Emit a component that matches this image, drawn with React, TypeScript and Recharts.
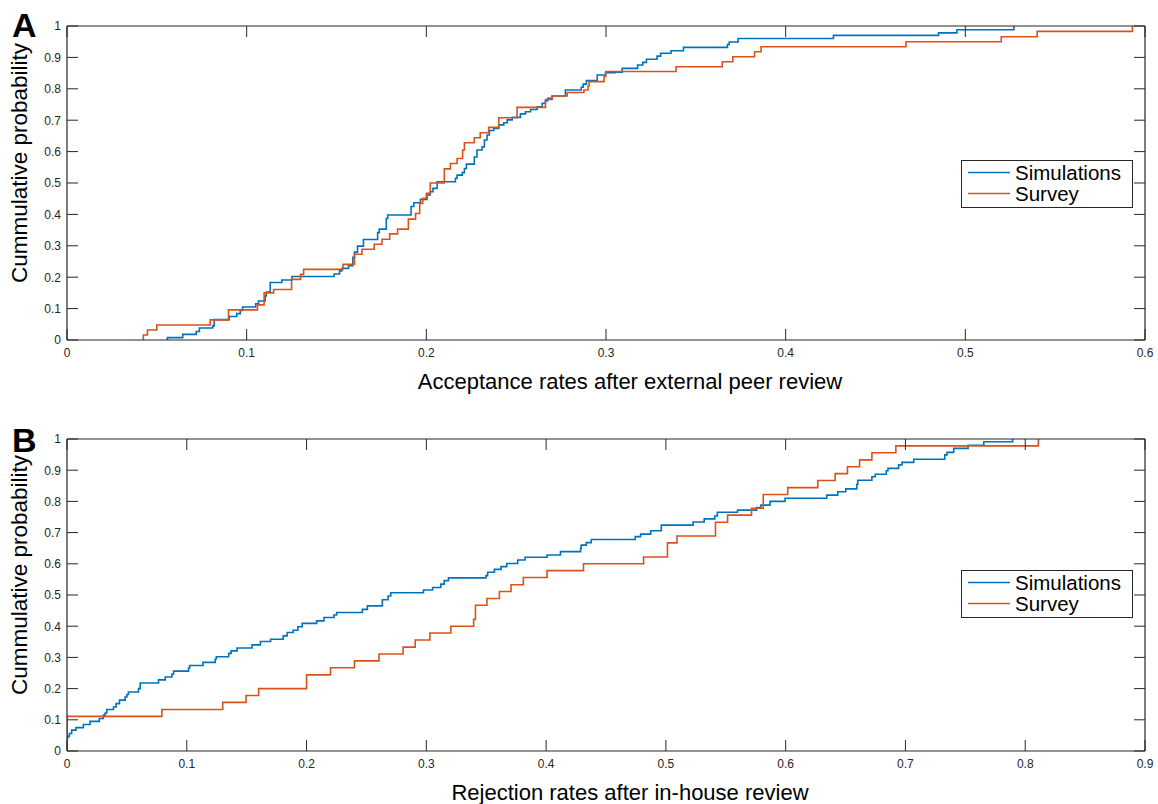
import React from 'react';
import { LineChart, Line, XAxis, YAxis, Legend } from 'recharts';

const FONT = '"Liberation Sans", Arial, Helvetica, sans-serif';
const AXIS = '#262626';
const BLUE = '#0072BD';
const ORANGE = '#D95319';

const seriesNames = ['Simulations', 'Survey'];
const yTicks = [0, 0.1, 0.2, 0.3, 0.4, 0.5, 0.6, 0.7, 0.8, 0.9, 1];
const xTicksA = [0, 0.1, 0.2, 0.3, 0.4, 0.5, 0.6];
const xTicksB = [0, 0.1, 0.2, 0.3, 0.4, 0.5, 0.6, 0.7, 0.8, 0.9];
const xLabelA = 'Acceptance rates after external peer review';
const xLabelB = 'Rejection rates after in-house review';
const yLabel = 'Cummulative probability';

// Panel A — empirical CDF steps [x, cumulative probability]
const simA: [number, number][] = [
  [0.0559, 0], [0.0559, 0.0075], [0.0644, 0.018], [0.0719, 0.027], [0.0737, 0.038], [0.0811, 0.045],
  [0.0819, 0.065], [0.0903, 0.075], [0.0945, 0.084], [0.0964, 0.094], [0.0977, 0.105], [0.105, 0.115],
  [0.1066, 0.124], [0.1103, 0.14], [0.1109, 0.153], [0.1131, 0.183], [0.1196, 0.191], [0.1252, 0.202],
  [0.1487, 0.21], [0.1517, 0.22], [0.153, 0.228], [0.1567, 0.237], [0.1591, 0.263], [0.16, 0.28],
  [0.1617, 0.299], [0.165, 0.32], [0.1729, 0.342], [0.1738, 0.353], [0.1777, 0.387], [0.1785, 0.398],
  [0.1915, 0.425], [0.193, 0.437], [0.1967, 0.448], [0.2004, 0.462], [0.2022, 0.472], [0.2037, 0.483],
  [0.206, 0.504], [0.2162, 0.515], [0.2171, 0.525], [0.22, 0.533], [0.2212, 0.546], [0.2223, 0.56],
  [0.2267, 0.583], [0.2282, 0.605], [0.231, 0.615], [0.2323, 0.637], [0.2338, 0.653], [0.2351, 0.667],
  [0.2375, 0.674], [0.2403, 0.685], [0.2431, 0.692], [0.245, 0.701], [0.2478, 0.709], [0.2524, 0.72],
  [0.2552, 0.727], [0.258, 0.734], [0.2617, 0.743], [0.2645, 0.754], [0.2663, 0.762], [0.2676, 0.77],
  [0.27, 0.777], [0.2774, 0.796], [0.2862, 0.805], [0.2873, 0.815], [0.2891, 0.826], [0.2951, 0.844],
  [0.2997, 0.851], [0.305, 0.853], [0.309, 0.865], [0.3176, 0.876], [0.3205, 0.884], [0.3225, 0.894],
  [0.3284, 0.904], [0.3304, 0.913], [0.3362, 0.921], [0.3431, 0.932], [0.3676, 0.941], [0.3686, 0.949],
  [0.3735, 0.96], [0.4266, 0.97], [0.4851, 0.978], [0.4953, 0.988], [0.527, 1],
];
const surA: [number, number][] = [
  [0.0425, 0], [0.0425, 0.016], [0.0448, 0.032], [0.05, 0.048], [0.0797, 0.064], [0.0899, 0.096],
  [0.106, 0.112], [0.1097, 0.15], [0.115, 0.161], [0.125, 0.193], [0.13, 0.209], [0.1317, 0.225],
  [0.1536, 0.241], [0.16, 0.273], [0.1642, 0.289], [0.171, 0.305], [0.1753, 0.321], [0.1796, 0.338],
  [0.184, 0.353], [0.19, 0.385], [0.194, 0.403], [0.1963, 0.435], [0.198, 0.451], [0.2, 0.467],
  [0.2022, 0.5], [0.21, 0.545], [0.2134, 0.562], [0.2171, 0.578], [0.2202, 0.605], [0.2212, 0.628],
  [0.2267, 0.644], [0.23, 0.66], [0.2347, 0.677], [0.2403, 0.708], [0.2505, 0.741], [0.2663, 0.766],
  [0.27, 0.777], [0.2784, 0.788], [0.2877, 0.796], [0.29, 0.809], [0.2906, 0.823], [0.2989, 0.839],
  [0.2999, 0.855], [0.339, 0.87], [0.3647, 0.886], [0.3706, 0.902], [0.3827, 0.918], [0.3863, 0.934],
  [0.467, 0.95], [0.52, 0.966], [0.54, 0.983], [0.593, 1],
];

// Panel B
const simB: [number, number][] = [
  [0, 0.04], [0.0005, 0.047], [0.002, 0.056], [0.0039, 0.067], [0.0075, 0.075], [0.0137, 0.085],
  [0.0192, 0.095], [0.027, 0.104], [0.0304, 0.115], [0.0318, 0.122], [0.0332, 0.133], [0.0388, 0.141],
  [0.041, 0.152], [0.0438, 0.163], [0.0485, 0.173], [0.05, 0.181], [0.0513, 0.189], [0.0597, 0.2],
  [0.0611, 0.218], [0.0764, 0.228], [0.082, 0.237], [0.0876, 0.247], [0.089, 0.256], [0.1015, 0.266],
  [0.1024, 0.274], [0.1135, 0.284], [0.1238, 0.295], [0.1247, 0.302], [0.135, 0.313], [0.137, 0.321],
  [0.142, 0.33], [0.1545, 0.34], [0.1615, 0.351], [0.17, 0.358], [0.1805, 0.369], [0.1838, 0.38],
  [0.1888, 0.387], [0.1927, 0.398], [0.1964, 0.409], [0.2084, 0.417], [0.2145, 0.428], [0.2229, 0.436],
  [0.2251, 0.444], [0.2466, 0.454], [0.2508, 0.465], [0.2633, 0.485], [0.268, 0.497], [0.2703, 0.507],
  [0.2976, 0.516], [0.3052, 0.524], [0.3121, 0.535], [0.3149, 0.546], [0.3185, 0.555], [0.3498, 0.562],
  [0.3512, 0.573], [0.3568, 0.582], [0.3624, 0.591], [0.3671, 0.601], [0.3763, 0.612], [0.3824, 0.621],
  [0.4008, 0.628], [0.412, 0.639], [0.4288, 0.65], [0.4293, 0.66], [0.4335, 0.668], [0.4377, 0.678],
  [0.4744, 0.687], [0.4789, 0.695], [0.4873, 0.706], [0.4962, 0.724], [0.5227, 0.734], [0.532, 0.744],
  [0.5408, 0.753], [0.543, 0.765], [0.5598, 0.772], [0.5757, 0.78], [0.5793, 0.788], [0.5869, 0.8],
  [0.5995, 0.81], [0.6343, 0.82], [0.6435, 0.831], [0.6502, 0.84], [0.6594, 0.855], [0.6602, 0.868],
  [0.672, 0.879], [0.6748, 0.887], [0.684, 0.898], [0.6854, 0.906], [0.6943, 0.917], [0.6971, 0.925],
  [0.7069, 0.935], [0.7328, 0.949], [0.7347, 0.957], [0.7403, 0.97], [0.7523, 0.98], [0.7654, 0.991],
  [0.7895, 1],
];
const surB: [number, number][] = [
  [0, 0], [0, 0.111], [0.0792, 0.133], [0.13, 0.156], [0.1495, 0.178], [0.16, 0.2], [0.2, 0.244],
  [0.22, 0.267], [0.24, 0.289], [0.2605, 0.311], [0.2806, 0.333], [0.2907, 0.356], [0.303, 0.378],
  [0.3205, 0.4], [0.3395, 0.422], [0.341, 0.467], [0.3506, 0.489], [0.361, 0.511], [0.3707, 0.533],
  [0.381, 0.556], [0.4008, 0.578], [0.4312, 0.6], [0.4814, 0.622], [0.5013, 0.667], [0.5093, 0.689],
  [0.5414, 0.733], [0.5515, 0.756], [0.5715, 0.778], [0.5813, 0.822], [0.6017, 0.844], [0.6268, 0.867],
  [0.6413, 0.889], [0.6516, 0.911], [0.6617, 0.933], [0.672, 0.956], [0.692, 0.978], [0.811, 1],
];

const rows = (pts: [number, number][]) => pts.map(([x, p]) => ({ x, p }));

const TICK_LEN = 11;
const TICK_FONT = 12;

const BottomTick = (props: any) => {
  const { x, y, payload } = props;
  return (
    <g>
      <line x1={x} x2={x} y1={y} y2={y - TICK_LEN} stroke={AXIS} strokeWidth={1} />
      <text x={x} y={y + 17} textAnchor="middle" fontSize={TICK_FONT} fill={AXIS} fontFamily={FONT}>
        {payload.value}
      </text>
    </g>
  );
};
const TopTick = (props: any) => {
  const { x, y } = props;
  return <line x1={x} x2={x} y1={y} y2={y + TICK_LEN} stroke={AXIS} strokeWidth={1} />;
};
const LeftTick = (props: any) => {
  const { x, y, payload } = props;
  return (
    <g>
      <line x1={x} x2={x + TICK_LEN} y1={y} y2={y} stroke={AXIS} strokeWidth={1} />
      <text x={x - 6} y={y + 4.3} textAnchor="end" fontSize={TICK_FONT} fill={AXIS} fontFamily={FONT}>
        {payload.value}
      </text>
    </g>
  );
};
const RightTick = (props: any) => {
  const { x, y } = props;
  return <line x1={x} x2={x - TICK_LEN} y1={y} y2={y} stroke={AXIS} strokeWidth={1} />;
};

const XTitle = (props: any) => {
  const { viewBox, text } = props;
  return (
    <text
      x={viewBox.x + viewBox.width / 2 + 24}
      y={viewBox.y + 49}
      textAnchor="middle"
      fontSize={22}
      fill="#000"
      fontFamily={FONT}
    >
      {text}
    </text>
  );
};
const YTitle = (props: any) => {
  const { viewBox, text } = props;
  const cx = viewBox.x + 10;
  const cy = viewBox.y + viewBox.height / 2 - 20;
  return (
    <text
      x={cx}
      y={cy}
      transform={`rotate(-90, ${cx}, ${cy})`}
      textAnchor="middle"
      fontSize={22.5}
      fill="#000"
      fontFamily={FONT}
    >
      {text}
    </text>
  );
};

const LegendBox = (props: any) => {
  const payload = (props.payload || []).filter((e: any) => seriesNames.includes(e.value));
  return (
    <svg width={172} height={48} style={{ display: 'block', overflow: 'visible' }}>
      <rect x={0.5} y={0.5} width={171} height={47} fill="#fff" stroke={AXIS} strokeWidth={1} />
      {payload.map((e: any, i: number) => {
        const ly = 12.5 + i * 21;
        return (
          <g key={i}>
            <line x1={7} x2={49} y1={ly} y2={ly} stroke={e.color} strokeWidth={1.5} />
            <text x={54} y={ly + 7} fontSize={20.5} fill="#000" fontFamily={FONT}>
              {e.value}
            </text>
          </g>
        );
      })}
    </svg>
  );
};

type PanelProps = {
  top: number;
  height: number;
  xAxisHeight: number;
  xMax: number;
  xTicks: number[];
  sim: [number, number][];
  sur: [number, number][];
  xLabel: string;
  legendTop: number;
};

const Panel = ({ top, height, xAxisHeight, xMax, xTicks, sim, sur, xLabel, legendTop }: PanelProps) => (
  <div style={{ position: 'absolute', left: 0, top, width: 1158, height }}>
    <LineChart width={1158} height={height} margin={{ top: 25, right: 12, bottom: 0, left: 17 }}>
      <XAxis
        type="number"
        dataKey="x"
        domain={[0, xMax]}
        ticks={xTicks}
        interval={0}
        allowDataOverflow
        height={xAxisHeight}
        tickSize={0}
        tickMargin={0}
        tickLine={false}
        axisLine={{ stroke: AXIS, strokeWidth: 1.2 }}
        tick={<BottomTick />}
        label={<XTitle text={xLabel} />}
      />
      <XAxis
        xAxisId="top"
        orientation="top"
        type="number"
        dataKey="x"
        domain={[0, xMax]}
        ticks={xTicks}
        interval={0}
        allowDataOverflow
        height={1}
        tickSize={0}
        tickMargin={0}
        tickLine={false}
        axisLine={{ stroke: AXIS, strokeWidth: 1.2 }}
        tick={<TopTick />}
      />
      <YAxis
        type="number"
        domain={[0, 1]}
        ticks={yTicks}
        interval={0}
        allowDataOverflow
        width={50}
        tickSize={0}
        tickMargin={0}
        tickLine={false}
        axisLine={{ stroke: AXIS, strokeWidth: 1.2 }}
        tick={<LeftTick />}
        label={<YTitle text={yLabel} />}
      />
      <YAxis
        yAxisId="right"
        orientation="right"
        type="number"
        domain={[0, 1]}
        ticks={yTicks}
        interval={0}
        allowDataOverflow
        width={1}
        tickSize={0}
        tickMargin={0}
        tickLine={false}
        axisLine={{ stroke: AXIS, strokeWidth: 1.2 }}
        tick={<RightTick />}
      />
      <Legend
        layout="vertical"
        align="center"
        verticalAlign="middle"
        wrapperStyle={{ left: 961, top: legendTop, width: 172, height: 48 }}
        content={<LegendBox />}
      />
      {/* invisible series bound to the mirrored top/right axes so the box frame renders */}
      <Line
        xAxisId="top"
        yAxisId="right"
        name="frame"
        legendType="none"
        data={rows(sim)}
        dataKey="p"
        type="stepAfter"
        stroke="none"
        dot={false}
        activeDot={false}
        isAnimationActive={false}
      />
      <Line
        name={seriesNames[0]}
        data={rows(sim)}
        dataKey="p"
        type="stepAfter"
        stroke={BLUE}
        strokeWidth={1.6}
        dot={false}
        activeDot={false}
        isAnimationActive={false}
      />
      <Line
        name={seriesNames[1]}
        data={rows(sur)}
        dataKey="p"
        type="stepAfter"
        stroke={ORANGE}
        strokeWidth={1.6}
        dot={false}
        activeDot={false}
        isAnimationActive={false}
      />
    </LineChart>
  </div>
);

export default function App() {
  return (
    <div style={{ position: 'absolute', left: 0, top: 0, width: 1158, height: 804, background: '#fff', overflow: 'hidden' }}>
      <Panel top={0} height={410} xAxisHeight={70} xMax={0.6} xTicks={xTicksA} sim={simA} sur={surA} xLabel={xLabelA} legendTop={160} />
      <Panel top={413} height={391} xAxisHeight={53} xMax={0.9} xTicks={xTicksB} sim={simB} sur={surB} xLabel={xLabelB} legendTop={157} />
      <svg width={1158} height={804} style={{ position: 'absolute', left: 0, top: 0, pointerEvents: 'none' }}>
        <text x={12} y={36.5} fontSize={34} fontWeight="bold" fill="#000" fontFamily={FONT}>A</text>
        <text x={12} y={451.5} fontSize={34} fontWeight="bold" fill="#000" fontFamily={FONT}>B</text>
      </svg>
    </div>
  );
}
